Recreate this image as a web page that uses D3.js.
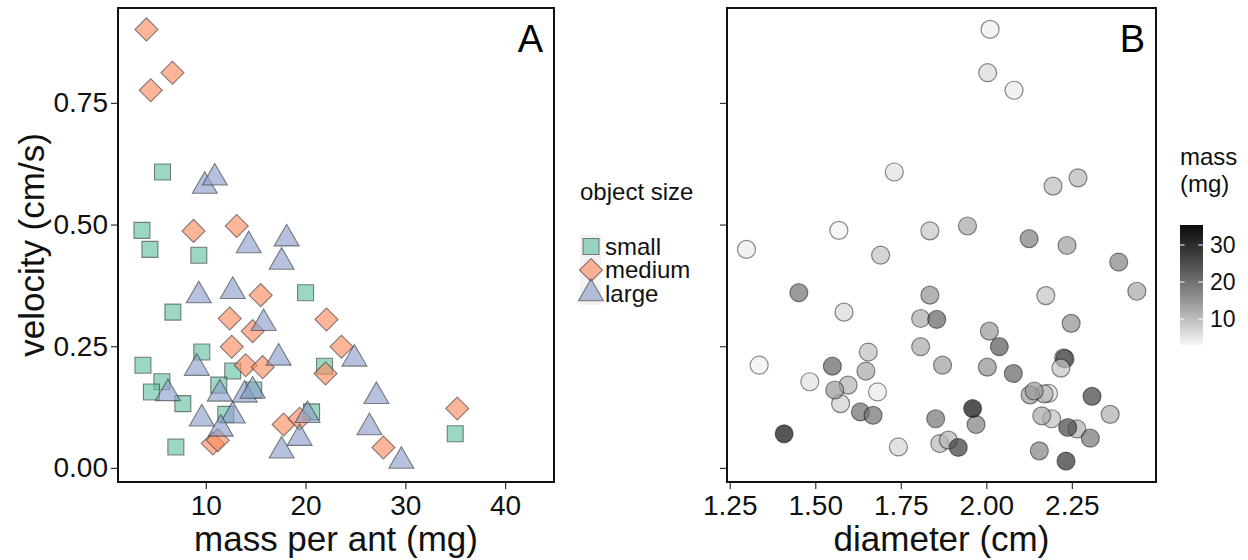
<!DOCTYPE html>
<html lang="en">
<head>
<meta charset="utf-8"/>
<title>ant transport: velocity vs mass and diameter</title>
<style>
body { margin: 0; background: #fff; }
svg { font-family: "Liberation Sans", Arial, sans-serif; }
.axis .domain { display: none; }
.axis line { stroke: #333; stroke-width: 1.2; }
.axis text { fill: #111; font-size: 28px; }
</style>
</head>
<body>
<svg width="1248" height="560"></svg>
<script src="https://d3js.org/d3.v7.min.js"></script>
<script>

// one entry per trial: small (19), medium (20), large (24)
var sizeClass = [].concat(
  d3.range(19).map(function() { return "small"; }),
  d3.range(20).map(function() { return "medium"; }),
  d3.range(24).map(function() { return "large"; }));

var mass = [
  5.66, 3.6, 4.4, 9.3, 20.0, 6.7, 9.6, 3.7, 12.7, 21.9, 5.6, 4.55, 7.7, 11.3, 14.8, 12.0, 7.0, 20.6, 35.0,
  4.05, 6.66, 4.48, 8.77, 13.1, 15.5, 12.4, 22.1, 14.7, 12.6, 23.6, 14.0, 15.7, 22.0, 10.7, 11.2, 17.8, 19.4, 27.8, 35.2,
  9.9, 10.9, 14.3, 18.1, 17.6, 9.3, 12.7, 15.8, 17.3, 24.9, 9.1, 6.2, 11.4, 13.9, 14.7, 9.6, 12.7, 11.5, 20.2, 19.4, 17.6, 27.1, 26.4, 29.6
];

var velocity = [
  0.608, 0.488, 0.449, 0.437, 0.360, 0.320, 0.238, 0.211, 0.199, 0.209, 0.177, 0.156, 0.132, 0.170, 0.160, 0.110, 0.043, 0.115, 0.070,
  0.901, 0.812, 0.776, 0.487, 0.497, 0.355, 0.307, 0.305, 0.281, 0.249, 0.249, 0.211, 0.207, 0.194, 0.050, 0.057, 0.089, 0.101, 0.042, 0.122,
  0.579, 0.596, 0.457, 0.471, 0.423, 0.354, 0.363, 0.297, 0.226, 0.224, 0.205, 0.153, 0.152, 0.150, 0.158, 0.101, 0.107, 0.080, 0.108, 0.061, 0.035, 0.147, 0.083, 0.014
];

var diameter = [
  1.731, 1.569, 1.299, 1.691, 1.452, 1.584, 1.655, 1.336, 1.648, 1.550, 1.484, 1.682, 1.574, 1.596, 1.557, 2.362, 1.743, 1.632, 1.409,
  2.011, 2.004, 2.081, 1.835, 1.945, 1.835, 1.808, 1.855, 2.009, 1.808, 2.038, 1.872, 2.003, 2.079, 1.864, 1.889, 1.970, 1.852, 1.918, 1.960,
  2.195, 2.268, 2.236, 2.125, 2.387, 2.174, 2.440, 2.248, 2.226, 2.230, 2.218, 2.182, 2.169, 2.128, 2.140, 2.191, 2.162, 2.265, 1.669, 2.304, 2.155, 2.309, 2.238, 2.233
];

var sizeLevels = ["small", "medium", "large"];
var sizeColors = ["#66c2a5", "#fc8d62", "#8da0cb"];
var yTicks = [0, 0.25, 0.5, 0.75];
var massTicks = [10, 20, 30, 40];
var diamTicks = [1.25, 1.5, 1.75, 2.0, 2.25];
var legendMassTicks = [10, 20, 30];

var data = mass.map(function(m, i) {
  return {mass: m, velocity: velocity[i], diameter: diameter[i], size: sizeClass[i]};
});

var svg = d3.select("svg");

var panelA = {left: 118, right: 554, top: 8, bottom: 482},
    panelB = {left: 727, right: 1156, top: 8, bottom: 482};

var y = d3.scaleLinear().domain([-0.029, 0.945]).range([panelA.bottom, panelA.top]);
var xA = d3.scaleLinear().domain([1.2, 44.9]).range([panelA.left, panelA.right]);
var xB = d3.scaleLinear().domain([1.242, 2.496]).range([panelB.left, panelB.right]);

var fillSize = d3.scaleOrdinal().domain(sizeLevels).range(sizeColors);
var shapeSize = d3.scaleOrdinal().domain(sizeLevels)
  .range([d3.symbol().type(d3.symbolSquare).size(256)(),
          d3.symbol().type(d3.symbolSquare).size(265)(),
          d3.symbol().type(d3.symbolTriangle).size(270)()]);
var rotSize = d3.scaleOrdinal().domain(sizeLevels).range([0, 45, 0]);

var grey = d3.scaleLinear().domain([3, 35.4]).range(["#f7f7f7", "#0a0a0a"]).interpolate(d3.interpolateLab);

// ---- panel A
svg.append("g")
  .attr("class", "axis")
  .attr("transform", "translate(0," + panelA.bottom + ")")
  .call(d3.axisBottom(xA).tickValues(massTicks).tickSize(7).tickPadding(6));

svg.append("g")
  .attr("class", "axis")
  .attr("transform", "translate(" + panelA.left + ",0)")
  .call(d3.axisLeft(y).tickValues(yTicks).tickSize(7).tickPadding(3).tickFormat(d3.format(".2f")));

svg.append("g")
  .selectAll("path")
  .data(data)
  .enter().append("path")
  .attr("d", function(d) { return shapeSize(d.size); })
  .attr("transform", function(d) {
    return "translate(" + xA(d.mass) + "," + y(d.velocity) + ") rotate(" + rotSize(d.size) + ")";
  })
  .attr("fill", function(d) { return fillSize(d.size); })
  .attr("fill-opacity", 0.65)
  .attr("stroke", "#333")
  .attr("stroke-opacity", 0.6)
  .attr("stroke-width", 1.1);

svg.append("rect")
  .attr("x", panelA.left).attr("y", panelA.top)
  .attr("width", panelA.right - panelA.left).attr("height", panelA.bottom - panelA.top)
  .attr("fill", "none").attr("stroke", "#111").attr("stroke-width", 2);

svg.append("text")
  .attr("x", panelA.right - 11).attr("y", 52)
  .attr("text-anchor", "end").attr("font-size", 38)
  .text("A");

// ---- panel B
svg.append("g")
  .attr("class", "axis")
  .attr("transform", "translate(0," + panelB.bottom + ")")
  .call(d3.axisBottom(xB).tickValues(diamTicks).tickSize(7).tickPadding(6).tickFormat(d3.format(".2f")));

svg.append("g")
  .attr("class", "axis")
  .attr("transform", "translate(" + panelB.left + ",0)")
  .call(d3.axisLeft(y).tickValues(yTicks).tickSize(7).tickFormat(""));

svg.append("g")
  .selectAll("circle")
  .data(data)
  .enter().append("circle")
  .attr("cx", function(d) { return xB(d.diameter); })
  .attr("cy", function(d) { return y(d.velocity); })
  .attr("r", 9)
  .attr("fill", function(d) { return grey(d.mass); })
  .attr("fill-opacity", 0.7)
  .attr("stroke", "#000")
  .attr("stroke-opacity", 0.45)
  .attr("stroke-width", 1.2);

svg.append("rect")
  .attr("x", panelB.left).attr("y", panelB.top)
  .attr("width", panelB.right - panelB.left).attr("height", panelB.bottom - panelB.top)
  .attr("fill", "none").attr("stroke", "#111").attr("stroke-width", 2);

svg.append("text")
  .attr("x", panelB.right - 11).attr("y", 52)
  .attr("text-anchor", "end").attr("font-size", 38)
  .text("B");

// axis titles
svg.append("text")
  .attr("transform", "translate(44," + (panelA.top + panelA.bottom) / 2 + ") rotate(-90)")
  .attr("text-anchor", "middle").attr("font-size", 35).attr("fill", "#111")
  .text("velocity (cm/s)");

svg.append("text")
  .attr("x", (panelA.left + panelA.right) / 2).attr("y", 551)
  .attr("text-anchor", "middle").attr("font-size", 35).attr("fill", "#111")
  .text("mass per ant (mg)");

svg.append("text")
  .attr("x", (panelB.left + panelB.right) / 2).attr("y", 551)
  .attr("text-anchor", "middle").attr("font-size", 35).attr("fill", "#111")
  .text("diameter (cm)");

// ---- shape legend
var legend = svg.append("g").attr("transform", "translate(580,0)");

legend.append("text")
  .attr("x", 0).attr("y", 200)
  .attr("font-size", 24).attr("fill", "#111")
  .text("object size");

var key = legend.selectAll("g.key")
  .data(sizeLevels)
  .enter().append("g")
  .attr("class", "key")
  .attr("transform", function(d, i) { return "translate(0," + (234.5 + i * 23.5) + ")"; });

key.append("rect")
  .attr("width", 21).attr("height", 23.5)
  .attr("fill", "#f2f2f2");

key.append("path")
  .attr("d", function(d) { return shapeSize(d); })
  .attr("transform", function(d) { return "translate(11,12) rotate(" + rotSize(d) + ")"; })
  .attr("fill", function(d) { return fillSize(d); })
  .attr("fill-opacity", 0.65)
  .attr("stroke", "#333")
  .attr("stroke-opacity", 0.6)
  .attr("stroke-width", 1.1);

key.append("text")
  .attr("x", 25).attr("y", 12).attr("dy", "0.35em")
  .attr("font-size", 24).attr("fill", "#111")
  .text(function(d) { return d; });

// ---- colour bar
var barY = d3.scaleLinear().domain(grey.domain()).range([345, 225]);
var grad = svg.append("defs").append("linearGradient")
  .attr("id", "massGrad").attr("x1", 0).attr("y1", 1).attr("x2", 0).attr("y2", 0);
grad.selectAll("stop")
  .data(d3.range(0, 1.01, 0.1))
  .enter().append("stop")
  .attr("offset", function(t) { return t; })
  .attr("stop-color", function(t) {
    var dm = grey.domain();
    return grey(dm[0] + t * (dm[1] - dm[0]));
  });

var bar = svg.append("g").attr("transform", "translate(1180,0)");

bar.append("text").attr("x", 0).attr("y", 165).attr("font-size", 24).attr("fill", "#111").text("mass");
bar.append("text").attr("x", 0).attr("y", 192).attr("font-size", 24).attr("fill", "#111").text("(mg)");

bar.append("rect")
  .attr("x", 0).attr("y", barY(grey.domain()[1]))
  .attr("width", 23).attr("height", barY(grey.domain()[0]) - barY(grey.domain()[1]))
  .attr("fill", "url(#massGrad)");

var bt = bar.selectAll("g.bt").data(legendMassTicks).enter().append("g")
  .attr("class", "bt")
  .attr("transform", function(d) { return "translate(0," + barY(d) + ")"; });
bt.append("line").attr("x1", 0).attr("x2", 4.6).attr("stroke", "#fff").attr("stroke-width", 1);
bt.append("line").attr("x1", 18.4).attr("x2", 23).attr("stroke", "#fff").attr("stroke-width", 1);
bt.append("text")
  .attr("x", 30).attr("dy", "0.35em")
  .attr("font-size", 23).attr("fill", "#111")
  .text(function(d) { return d; });

</script>
</body>
</html>
